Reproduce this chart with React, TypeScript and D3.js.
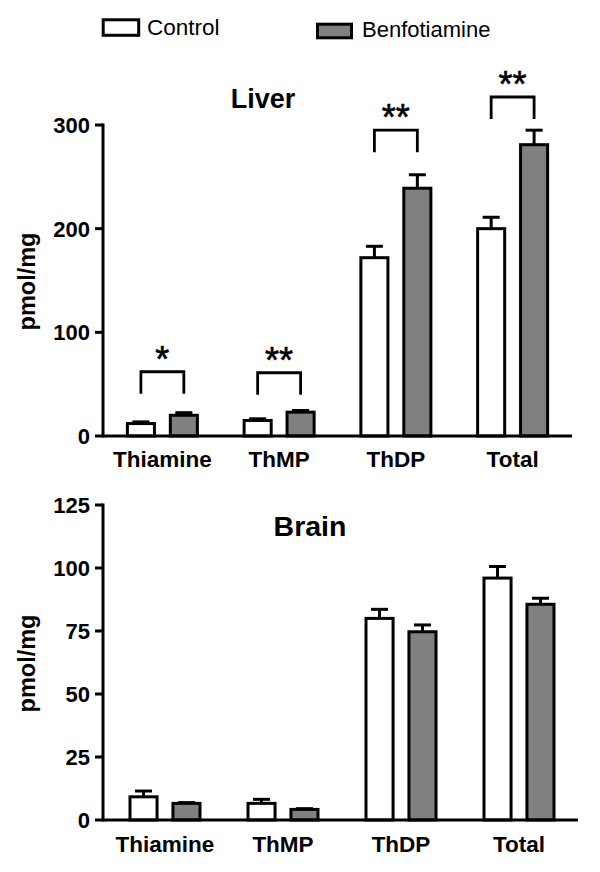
import React from 'react';
import * as d3 from 'd3';

const categories = ['Thiamine', 'ThMP', 'ThDP', 'Total'];
const series = ['Control', 'Benfotiamine'];

const liverControl = [12, 15, 172, 200];
const liverControlErr = [1.6, 1.6, 11, 11];
const liverBenfo = [20, 23, 239, 281];
const liverBenfoErr = [2.5, 1.6, 13, 14];

const brainControl = [9.2, 6.6, 80, 96];
const brainControlErr = [2.3, 1.6, 3.6, 4.6];
const brainBenfo = [6.6, 4.2, 74.7, 85.6];
const brainBenfoErr = [0.3, 0.3, 2.7, 2.4];

const liverSignif = ['*', '**', '**', '**'];
const liverBracketLevel = [62, 61, 295, 327];
const brainSignif: string[] = ['', '', '', ''];
const brainBracketLevel: number[] = [0, 0, 0, 0];

const liverTicks = [0, 100, 200, 300];
const brainTicks = [0, 25, 50, 75, 100, 125];

const fills = ['#ffffff', '#808080'];
const FONT = 'Liberation Sans, Arial, Helvetica, sans-serif';

type PanelProps = {
  title: string;
  titleX: number;
  titleY: number;
  titleSize: number;
  yDomain: [number, number];
  yRange: [number, number];
  xRange: [number, number];
  ticks: number[];
  control: number[];
  controlErr: number[];
  benfo: number[];
  benfoErr: number[];
  signif: string[];
  bracketLevel: number[];
  labelY: number;
  axisEnd: number;
};

function Panel(p: PanelProps) {
  const y = d3.scaleLinear().domain(p.yDomain).range(p.yRange);
  const x = d3.scaleBand<string>().domain(categories).range(p.xRange).padding(0);
  const sub = d3.scaleBand<string>().domain(series).range([-36.5, 36.5]).paddingInner(0.3).paddingOuter(0);
  const axisX = 103;
  const sw = 3;
  const vals = [p.control, p.benfo];
  const errs = [p.controlErr, p.benfoErr];
  const y0 = y(0);
  return (
    <g>
      <text x={p.titleX} y={p.titleY} textAnchor="middle" fontFamily={FONT} fontWeight="bold" fontSize={p.titleSize}>
        {p.title}
      </text>
      <text
        transform={`translate(35,${(p.yRange[0] + p.yRange[1]) / 2 + 1}) rotate(-90)`}
        textAnchor="middle"
        fontFamily={FONT}
        fontWeight="bold"
        fontSize={23.5}
      >
        pmol/mg
      </text>
      {categories.map((c, i) => {
        const cx = (x(c) as number) + x.bandwidth() / 2;
        return (
          <g key={c}>
            {series.map((s, j) => {
              const bx = cx + (sub(s) as number);
              const bw = sub.bandwidth();
              const v = vals[j][i];
              const e = errs[j][i];
              const mid = bx + bw / 2;
              return (
                <g key={s}>
                  <line x1={mid} x2={mid} y1={y(v)} y2={y(v + e)} stroke="#000" strokeWidth={sw} />
                  <line x1={mid - 8.5} x2={mid + 8.5} y1={y(v + e)} y2={y(v + e)} stroke="#000" strokeWidth={sw} />
                  <rect
                    x={bx + sw / 2}
                    y={y(v)}
                    width={bw - sw}
                    height={y0 - y(v)}
                    fill={fills[j]}
                    stroke="#000"
                    strokeWidth={sw}
                  />
                </g>
              );
            })}
            {p.signif[i] ? (
              (() => {
                const l = cx + (sub('Control') as number) + sub.bandwidth() / 2;
                const r = cx + (sub('Benfotiamine') as number) + sub.bandwidth() / 2;
                const by = y(p.bracketLevel[i]);
                return (
                  <g>
                    <path
                      d={`M${l},${by + 22}V${by}H${r}V${by + 22}`}
                      fill="none"
                      stroke="#000"
                      strokeWidth={2.8}
                    />
                    <text x={(l + r) / 2} y={by} textAnchor="middle" fontFamily={FONT} fontSize={36} stroke="#000" strokeWidth={0.6}>
                      {p.signif[i]}
                    </text>
                  </g>
                );
              })()
            ) : null}
            <text x={cx} y={p.labelY} textAnchor="middle" fontFamily={FONT} fontWeight="bold" fontSize={22.5}>
              {c}
            </text>
          </g>
        );
      })}
      <line x1={axisX} x2={p.axisEnd} y1={y0} y2={y0} stroke="#000" strokeWidth={3} />
      <line x1={axisX} x2={axisX} y1={y0 + 1.5} y2={y(p.yDomain[1]) - 1.5} stroke="#000" strokeWidth={3} />
      {p.ticks.map((t) => (
        <g key={t}>
          <line x1={axisX - 8} x2={axisX} y1={y(t)} y2={y(t)} stroke="#000" strokeWidth={3} />
          <text x={90} y={y(t)} dy="0.36em" textAnchor="end" fontFamily={FONT} fontWeight="bold" fontSize={22}>
            {t}
          </text>
        </g>
      ))}
    </g>
  );
}

export default function App() {
  return (
    <svg
      width={600}
      height={872}
      viewBox="0 0 600 872"
      style={{ position: 'absolute', left: 0, top: 0, background: '#fff' }}
    >
      <rect x={0} y={0} width={600} height={872} fill="#fff" />
      {/* legend */}
      <rect x={103.2} y={19.8} width={35.5} height={15.5} fill={fills[0]} stroke="#000" strokeWidth={3} />
      <text x={147} y={35} fontFamily={FONT} fontSize={22.5}>{series[0]}</text>
      <rect x={317.5} y={24.2} width={34} height={13.6} fill={fills[1]} stroke="#000" strokeWidth={3} />
      <text x={362} y={36.7} fontFamily={FONT} fontSize={22}>{series[1]}</text>

      <Panel
        title="Liver"
        titleX={263}
        titleY={108}
        titleSize={27}
        yDomain={[0, 300]}
        yRange={[436, 125]}
        xRange={[104, 571]}
        ticks={liverTicks}
        control={liverControl}
        controlErr={liverControlErr}
        benfo={liverBenfo}
        benfoErr={liverBenfoErr}
        signif={liverSignif}
        bracketLevel={liverBracketLevel}
        labelY={467}
        axisEnd={572}
      />
      <Panel
        title="Brain"
        titleX={310}
        titleY={536}
        titleSize={28.5}
        yDomain={[0, 125]}
        yRange={[820, 505]}
        xRange={[106, 578]}
        ticks={brainTicks}
        control={brainControl}
        controlErr={brainControlErr}
        benfo={brainBenfo}
        benfoErr={brainBenfoErr}
        signif={brainSignif}
        bracketLevel={brainBracketLevel}
        labelY={852}
        axisEnd={578}
      />
    </svg>
  );
}
